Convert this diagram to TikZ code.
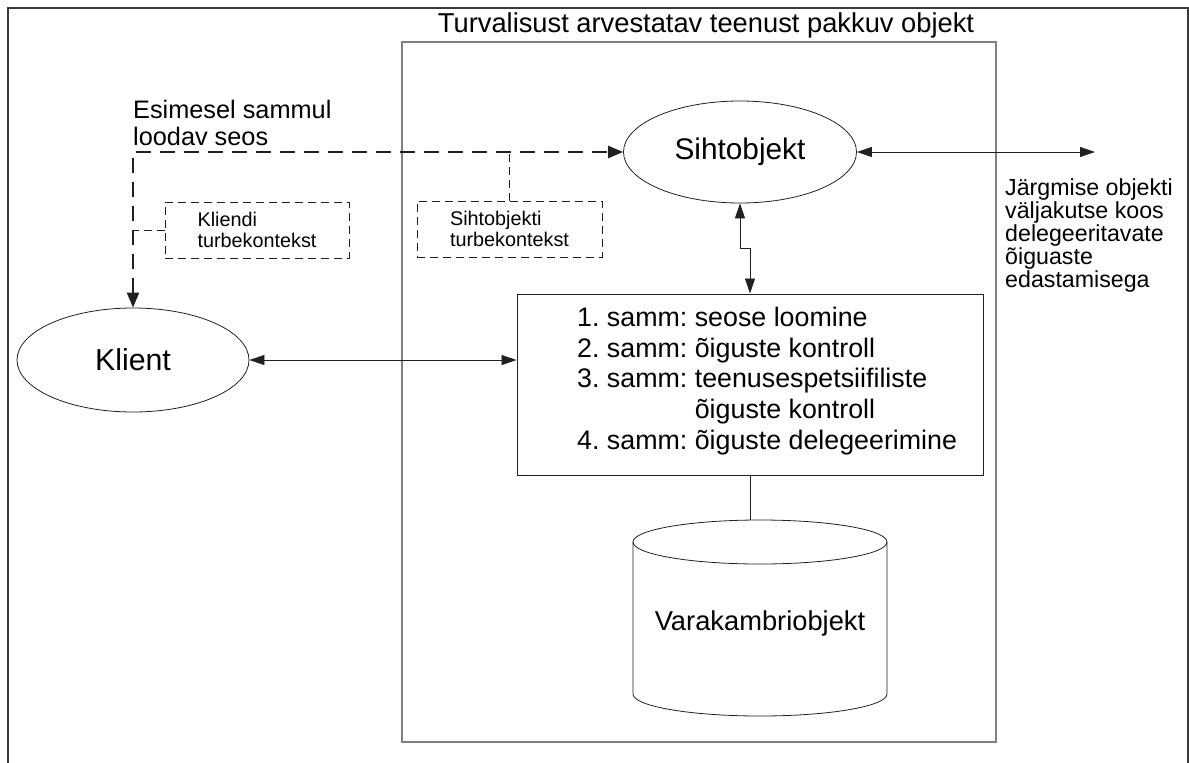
\documentclass[tikz,border=0pt]{standalone}
\usepackage{fontspec}
\setmainfont{Liberation Sans}
\usetikzlibrary{shapes.geometric,arrows.meta}
\definecolor{ink}{HTML}{231F20}
\definecolor{framegray}{HTML}{3A3A3A}
\definecolor{boxgray}{HTML}{808080}
\frenchspacing

\begin{document}
\begin{tikzpicture}[x=1pt,y=-1pt,
  font=\color{ink},
  line/.style={draw=ink, line width=0.8pt},
  twotip/.style={{Triangle[length=15pt,width=10pt]}-{Triangle[length=15pt,width=10pt]}},
  bigtips/.style={{Triangle[length=15pt,width=12pt]}-{Triangle[length=15pt,width=12pt]}},
  oval/.style={ellipse, draw=ink, line width=0.8pt, inner sep=0pt},
  ctxdash/.style={draw=ink, line width=0.9pt, dash pattern=on 8pt off 5pt},
  ctxbox/.style={ctxdash, align=left, inner sep=0pt, font=\fontsize{19.8}{21}\selectfont},
  seosline/.style={draw=ink, line width=2.2pt, dash pattern=on 15pt off 9pt},
]
\useasboundingbox (0,0) rectangle (1189,763);

% outer frame, open at the bottom edge
\draw[framegray, line width=2pt] (7.5,775) -- (7.5,7.5) -- (1187.5,7.5) -- (1187.5,775);

% service object container and its caption
\node (service) [draw=boxgray, line width=1.5pt, minimum width=594pt, minimum height=700pt, inner sep=0pt] at (699,392) {};
\node (title) [font=\fontsize{27.3}{30}\selectfont] at (706,25) {Turvalisust arvestatav teenust pakkuv objekt};

% main participants
\node (siht) [oval, minimum width=233pt, minimum height=102pt, font=\fontsize{29.8}{30}\selectfont] at (740,152) {Sihtobjekt};
\node (klient) [oval, minimum width=232pt, minimum height=104pt, font=\fontsize{30.3}{31}\selectfont] at (133,360) {Klient};

% processing steps
\node (steps) [draw=ink, line width=1pt, minimum width=466pt, minimum height=181pt, inner sep=0pt] at (750,384.5) {};
\node (stepstext) [anchor=west, align=left, inner sep=0pt, font=\fontsize{26.8}{30.75}\selectfont] at (577,381)
  {1. samm: seose loomine\\
   2. samm: õiguste kontroll\\
   3. samm: teenusespetsiifiliste\\
   \phantom{3. samm: }õiguste kontroll\\
   4. samm: õiguste delegeerimine};

% repository cylinder
\draw[ink, line width=0.8pt] (760,542) ellipse [x radius=127, y radius=22];
\draw[ink, line width=0.8pt] (633,542) -- (633,694) arc[start angle=180, end angle=0, x radius=127, y radius=22] -- (887,542);
\node (vara) [font=\fontsize{27.3}{30}\selectfont] at (760,623) {Varakambriobjekt};
\coordinate (varatop) at (750,520);

% security contexts
\node (kctx) [ctxbox, minimum width=184pt, minimum height=56pt] at (257,230) {Kliendi\\turbekontekst};
\node (sctx) [ctxbox, minimum width=185pt, minimum height=56pt] at (509.5,229) {Sihtobjekti\\turbekontekst};

% free labels
\node (seoslabel) [anchor=west, align=left, inner sep=0pt, font=\fontsize{25.3}{27}\selectfont] at (133,122.5) {Esimesel sammul\\loodav seos};
\node (nextlabel) [anchor=west, align=left, inner sep=0pt, font=\fontsize{23.2}{23}\selectfont] at (1005,235)
  {Järgmise objekti\\väljakutse koos\\delegeeritavate\\õiguaste\\edastamisega};
\coordinate (nextobj) at (1095,152);

% connection set up in the first step
\draw[seosline, bigtips] (klient.north) |- (siht.west);
\draw[ctxdash] (kctx.west) -- (kctx.west -| klient.north);
\draw[ctxdash] (sctx.north) -- (sctx.north |- siht.west);

% call flow
\draw[line, twotip] (klient.east) -- (klient.east -| steps.west);
\draw[line, twotip] (steps.north) -- ++(0,-45) -| (siht.south);
\draw[line, twotip] (siht.east) -- (nextobj);
\draw[line] (steps.south) -- (varatop);
\end{tikzpicture}
\end{document}
